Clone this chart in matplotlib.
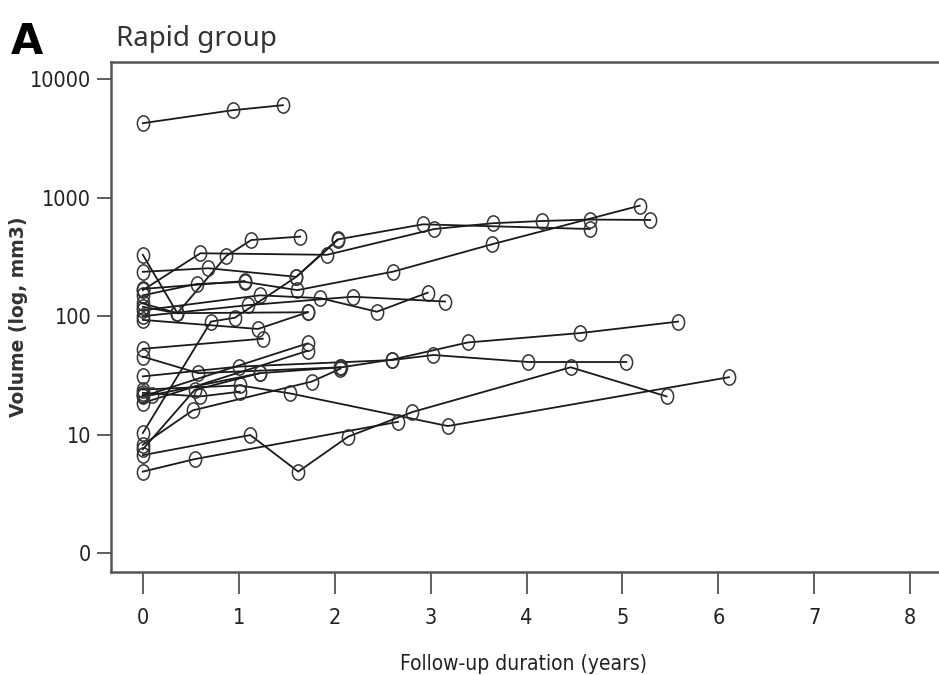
import numpy as np
import matplotlib.pyplot as plt
from matplotlib.ticker import FixedLocator, FixedFormatter
from matplotlib.path import Path
from matplotlib.transforms import Affine2D

# follow-up time (years) and tumour volume (mm3) for each patient
t01 = [0, 0.94, 1.46];                          v01 = [4270, 5500, 6060]
t02 = [0, 0.36, 0.87, 1.13, 1.64];              v02 = [330, 106, 322, 440, 470]
t03 = [0, 0.68, 1.60, 2.03, 2.92, 4.66];        v03 = [237, 254, 215, 445, 597, 545]
t04 = [0, 0.60, 1.92, 3.04, 3.65, 4.16, 4.66, 5.29]
v04 = [166, 340, 330, 545, 610, 637, 655, 650]
t05 = [0, 0.56, 1.06, 1.61, 2.61, 3.64, 5.18];  v05 = [150, 187, 195, 166, 238, 405, 858]
t06 = [0, 1.06];                                v06 = [170, 198]
t07 = [0, 1.22, 1.85, 2.44, 2.97];              v07 = [112, 150, 142, 109, 158]
t08 = [0, 1.10, 2.19, 3.15];                    v08 = [100, 124, 146, 133]
t09 = [0, 0.71, 0.96, 1.60, 2.03];              v09 = [10.3, 90, 97, 215, 440]
t10 = [0, 0.36, 1.72];                          v10 = [120, 106, 108]
t11 = [0, 1.25];                                v11 = [53, 64.5]
t12 = [0, 0.58, 2.07, 2.60, 3.39, 4.56, 5.58];  v12 = [45.5, 33, 37, 43, 60, 72, 90]
t13 = [0, 1.00, 2.60, 3.03, 4.02, 5.04];        v13 = [31, 37.5, 42.6, 47, 41, 41]
t14 = [0, 1.72];                                v14 = [21, 59]
t15 = [0, 1.72];                                v15 = [18.5, 51]
t16 = [0, 0.52, 1.76, 2.06];                    v16 = [8.2, 16, 28, 36]
t17 = [0, 1.01, 1.53, 3.18, 6.11];              v17 = [24, 26, 22.3, 11.8, 30.5]
t18 = [0, 0.54, 2.66];                          v18 = [4.86, 6.2, 12.8]
t19 = [0, 1.12, 1.62, 2.14, 2.81, 4.46, 5.46];  v19 = [6.7, 9.9, 4.86, 9.6, 15.5, 37, 21]
t20 = [0, 0.10, 1.22, 2.06];                    v20 = [21.6, 21.6, 33, 37]
t21 = [0, 0.60, 1.01];                          v21 = [22.5, 21, 23]
t22 = [0, 0.54, 1.22];                          v22 = [7.5, 23.8, 33]
t23 = [0, 1.20, 1.72];                          v23 = [93, 78, 108]
t24 = [0, 0.36];                                v24 = [128, 106]

patients = [(t01, v01), (t02, v02), (t03, v03), (t04, v04), (t05, v05),
            (t06, v06), (t07, v07), (t08, v08), (t09, v09), (t10, v10),
            (t11, v11), (t12, v12), (t13, v13), (t14, v14), (t15, v15),
            (t16, v16), (t17, v17), (t18, v18), (t19, v19), (t20, v20),
            (t21, v21), (t22, v22), (t23, v23), (t24, v24)]

y_ticks = [1, 10, 100, 1000, 10000]
y_labels = ['0', '10', '100', '1000', '10000']
x_ticks = [0, 1, 2, 3, 4, 5, 6, 7, 8]

# open circles in the original are a bit taller than wide
oval = Path.unit_circle().transformed(Affine2D().scale(0.8, 1.0))

fig = plt.figure(figsize=(9.39, 6.75), dpi=100)
ax = fig.add_axes([0.118, 0.1526, 0.882, 0.7555])

for t, v in patients:
    ax.plot(t, v, color='#1a1a1a', lw=1.3, marker=oval, ms=11,
            mfc='none', mec='#333333', mew=1.1)

ax.set_yscale('log')
ax.set_ylim(0.69, 14030)
ax.set_xlim(-0.334, 8.30)

ax.yaxis.set_major_locator(FixedLocator(y_ticks))
ax.yaxis.set_major_formatter(FixedFormatter(y_labels))
ax.yaxis.set_minor_locator(FixedLocator([]))
ax.set_xticks(x_ticks)

for s in ['left', 'bottom', 'top']:
    ax.spines[s].set_color('#555555')
    ax.spines[s].set_linewidth(1.8)
ax.spines['right'].set_visible(False)

ax.tick_params(axis='y', length=10, width=1.2, color='#444444', pad=4)
ax.tick_params(axis='x', length=16, width=1.2, color='#444444', pad=10)
for lab in ax.get_xticklabels() + ax.get_yticklabels():
    lab.set_family('DejaVu Sans')
    lab.set_fontstretch('condensed')
    lab.set_fontsize(15.5)
    lab.set_color('#222222')

ax.set_xlabel('Follow-up duration (years)', family='DejaVu Sans',
              fontstretch='condensed', fontsize=15, color='#222222')
ax.xaxis.set_label_coords((524 - 111) / 828, -0.16)
ax.set_ylabel('Volume (log, mm3)', family='DejaVu Sans', fontsize=13.5,
              fontweight='bold', color='#333333')
ax.yaxis.set_label_coords(-0.100, 0.5)

fig.text(0.012, 0.92, 'A', fontsize=30, fontweight='bold', family='DejaVu Sans')
fig.text(0.124, 0.932, 'Rapid group', fontsize=20, family='Noto Sans',
         color='#333333')

fig.savefig('out.png', dpi=100)
